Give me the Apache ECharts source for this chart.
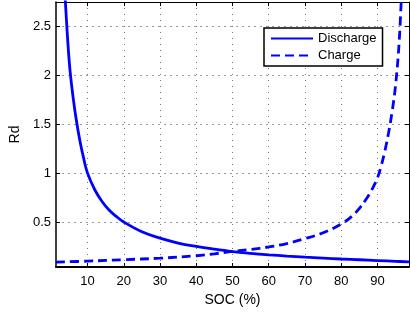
<!DOCTYPE html>
<html style="height: 100%">
<head>
    <meta charset="utf-8">
    <title>Rd vs SOC</title>
</head>
<body style="height: 100%; margin: 0; background: #fff">
<div id="container" style="width: 410px; height: 314px"></div>
<script type="text/javascript" src="https://cdn.jsdelivr.net/npm/echarts@6.0.0/dist/echarts.min.js"></script>
<script type="text/javascript">
// values
var socDischarge = [3.5, 4, 5, 6, 7, 8, 9, 10, 12, 14, 16, 18, 20, 25, 30, 35, 40, 45, 50, 55, 60, 65, 70, 75, 80, 85, 90, 95, 98.7];
var rdDischarge = [3.05, 2.68, 2.12, 1.78, 1.52, 1.31, 1.14, 1.0, 0.83, 0.71, 0.62, 0.555, 0.50, 0.40, 0.335, 0.285, 0.25, 0.222, 0.198, 0.18, 0.165, 0.152, 0.141, 0.131, 0.122, 0.114, 0.106, 0.098, 0.093];
var socCharge = [1.3, 10, 20, 30, 40, 45, 50, 55, 60, 65, 70, 75, 80, 83, 85, 87, 88, 89, 90, 91, 92, 93, 94, 95, 96, 96.7];
var rdCharge = [0.09, 0.10, 0.115, 0.13, 0.155, 0.175, 0.20, 0.22, 0.245, 0.28, 0.33, 0.39, 0.48, 0.56, 0.64, 0.74, 0.80, 0.87, 0.95, 1.07, 1.22, 1.40, 1.62, 1.90, 2.35, 2.9];
var xTicks = [10, 20, 30, 40, 50, 60, 70, 80, 90];
var yTicks = [0.5, 1, 1.5, 2, 2.5];
var seriesNames = ['Discharge', 'Charge'];

function pairs(xs, ys) {
    return xs.map(function (x, i) { return [x, ys[i]]; });
}

var dom = document.getElementById('container');
var myChart = echarts.init(dom);
var font = 'Liberation Sans, Arial, sans-serif';

function xAx(pos, show) {
    return {
        type: 'value', position: pos, min: 1.3, max: 98.7,
        axisLine: { show: true, onZero: false, lineStyle: { color: '#000', width: pos === 'bottom' ? 2 : 1 } },
        axisTick: { show: true, inside: true, length: 4, customValues: xTicks, lineStyle: { color: '#000' } },
        axisLabel: { show: show, customValues: xTicks, color: '#000', fontSize: 13, fontFamily: font, margin: 8 },
        splitLine: { show: show, lineStyle: { color: '#777', type: [1, 5] } },
        name: show ? 'SOC (%)' : '', nameLocation: 'middle', nameGap: 26,
        nameTextStyle: { color: '#000', fontSize: 14, fontFamily: font }
    };
}
function yAx(pos, show) {
    return {
        type: 'value', position: pos, min: 0.04, max: 2.75,
        axisLine: { show: true, onZero: false, lineStyle: { color: '#000', width: pos === 'left' ? 1.5 : 1 } },
        axisTick: { show: true, inside: true, length: 4, customValues: yTicks, lineStyle: { color: '#000' } },
        axisLabel: { show: show, customValues: yTicks, color: '#000', fontSize: 13, fontFamily: font, margin: 5 },
        splitLine: { show: show, lineStyle: { color: '#999', type: [2, 4] } },
        name: show ? 'Rd' : '', nameLocation: 'middle', nameGap: 34, nameRotate: 90,
        nameTextStyle: { color: '#000', fontSize: 14, fontFamily: font }
    };
}

var option = {
    animation: false,
    grid: { left: 51, right: 1, top: 2, bottom: 47 },
    xAxis: [xAx('bottom', true), xAx('top', false)],
    yAxis: [yAx('left', true), yAx('right', false)],
    legend: {
        orient: 'vertical', left: 264, top: 28,
        padding: [4, 6, 4, 6], itemGap: 4, itemWidth: 42, itemHeight: 14,
        backgroundColor: '#fff', borderColor: '#000', borderWidth: 1.5, borderRadius: 0,
        itemStyle: { opacity: 0 },
        textStyle: { color: '#000', fontSize: 13, fontFamily: font },
        data: seriesNames
    },
    series: [
        {
            name: seriesNames[0], type: 'line', symbol: 'none', smooth: 0.4,
            lineStyle: { color: '#0000ff', width: 2.8 }, itemStyle: { color: '#0000ff' },
            data: pairs(socDischarge, rdDischarge)
        },
        {
            name: seriesNames[1], type: 'line', symbol: 'none', smooth: 0.4,
            lineStyle: { color: '#0000ff', width: 2.8, type: [9, 5] }, itemStyle: { color: '#0000ff' },
            data: pairs(socCharge, rdCharge)
        }
    ]
};
myChart.setOption(option);
</script>
</body>
</html>
